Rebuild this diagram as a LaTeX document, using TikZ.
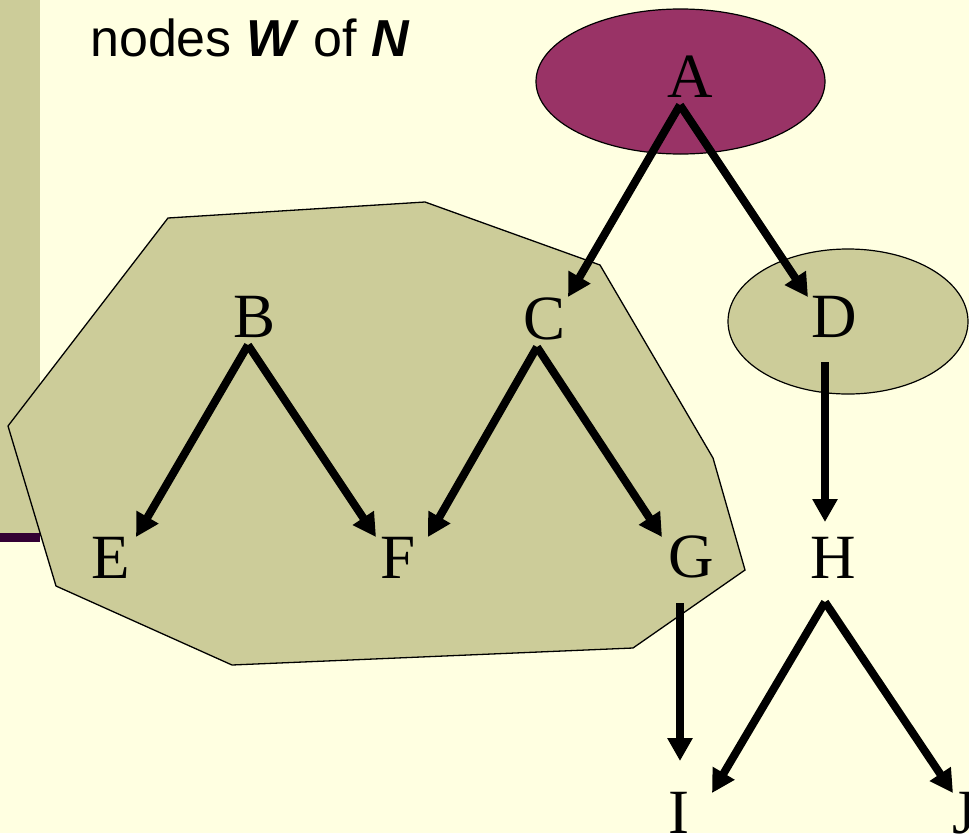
\documentclass[tikz,border=0pt]{standalone}
\usepackage{fontspec}
\setmainfont{Liberation Serif}
\newfontfamily\arialfont{Liberation Sans}
\usetikzlibrary{arrows.meta,shapes.geometric}
\definecolor{paper}{HTML}{FFFFE1}
\definecolor{olive}{HTML}{CCCC99}
\definecolor{plum}{HTML}{993366}
\definecolor{darkplum}{HTML}{330033}

\begin{document}
\begin{tikzpicture}[x=1pt,y=-1pt,
  letter/.style={inner sep=0pt,text height=42pt,text depth=0pt,
                 font=\fontsize{63}{63}\selectfont},
  blob/.style={ellipse,draw,line width=1.2pt,inner sep=0pt},
  arr/.style={-{Triangle[length=23pt,width=24pt]},line width=8pt}]
\fill[paper] (0,0) rectangle (969,833);
\useasboundingbox (0,0) rectangle (969,833);
\fill[olive] (0,0) rectangle (40,537);
\fill[darkplum] (0,533) rectangle (40,542);
% the set W
\filldraw[fill=olive,line width=1.3pt] (168,218) -- (425,202) -- (600,265) -- (713,458)
  -- (745,570) -- (633,648) -- (232,665) -- (56,586) -- (8,426) -- cycle;
\node[blob,fill=plum,minimum width=289pt,minimum height=145pt] (ellA) at (680.5,81.5) {};
\node[blob,fill=olive,minimum width=240pt,minimum height=145pt] (ellD) at (848,321.5) {};
\node[anchor=base west,inner sep=0pt,font=\arialfont\fontsize{52}{52}\selectfont]
  (caption) at (90,56) {nodes \textbf{\textit{W}} of \textbf{\textit{N}}};
% letters
\node[letter] (A) at (690,76) {A};
\node[letter] (B) at (255,316) {B};
\node[letter] (C) at (545,318) {C};
\node[letter] (D) at (834,316) {D};
\node[letter] (E) at (111,557) {E};
\node[letter] (F) at (398,557) {F};
\node[letter] (G) at (691,556) {G};
\node[letter] (H) at (833,557) {H};
\node[letter] (I) at (679,812) {I};
\node[letter] (J) at (965,812) {J};
% edges
\draw[arr] ([xshift=-10pt,yshift=-29pt]A.center) -- ([xshift=23pt,yshift=21pt]C.center);
\draw[arr] ([xshift=-10pt,yshift=-29pt]A.center) -- ([xshift=-26pt,yshift=19pt]D.center);
\draw[arr] ([xshift=-7pt,yshift=-29pt]B.center) -- ([xshift=25pt,yshift=20pt]E.center);
\draw[arr] ([xshift=-7pt,yshift=-29pt]B.center) -- ([xshift=-22pt,yshift=20pt]F.center);
\draw[arr] ([xshift=-8pt,yshift=-29pt]C.center) -- ([xshift=30pt,yshift=20pt]F.center);
\draw[arr] ([xshift=-8pt,yshift=-29pt]C.center) -- ([xshift=-29pt,yshift=19pt]G.center);
\draw[arr] ([xshift=-9pt,yshift=-46pt]D.center) -- ([xshift=-8pt,yshift=35pt]H.center);
\draw[arr] ([xshift=-11pt,yshift=-47pt]G.center) -- ([xshift=1pt,yshift=51pt]I.center);
\draw[arr] ([xshift=-8pt,yshift=-45pt]H.center) -- ([xshift=33pt,yshift=19pt]I.center);
\draw[arr] ([xshift=-8pt,yshift=-45pt]H.center) -- ([xshift=-12pt,yshift=19pt]J.center);
\end{tikzpicture}
\end{document}
